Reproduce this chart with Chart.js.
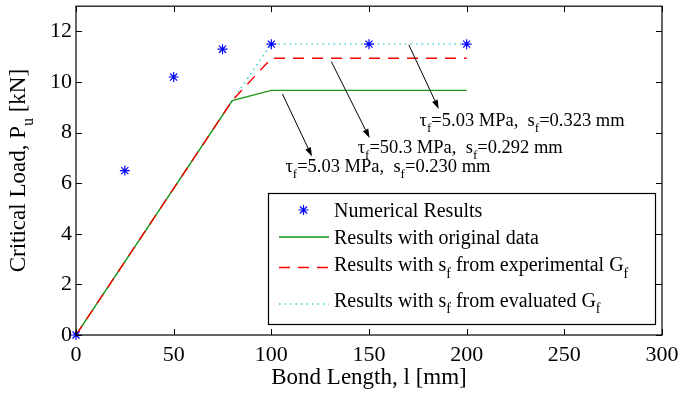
<!DOCTYPE html>
<html>
<head>
<meta charset="utf-8">
<script src="https://cdn.jsdelivr.net/npm/chart.js@4/dist/chart.umd.min.js"></script>
<style>
  html, body { margin: 0; padding: 0; background: #fff; }
  #c { display: block; }
</style>
</head>
<body>
<canvas id="c" width="681" height="393"></canvas>
<script>
// Bond length samples of the numerical model [mm] and critical loads [kN]
const bondLength = [0, 25, 50, 75, 100, 150, 200];
const numericalLoad = [0, 6.5, 10.2, 11.3, 11.5, 11.5, 11.5];

// Analytical curves: bond length [mm] vs critical load [kN]
const modelLength = [0, 80, 100, 200];
const originalLoad = [0, 9.27, 9.67, 9.67];
const experimentalGfLoad = [0, 9.27, 10.94, 10.94];
const evaluatedGfLoad = [0, 9.27, 11.5, 11.5];

// Axis ticks
const xTicks = [0, 50, 100, 150, 200, 250, 300];
const yTicks = [0, 2, 4, 6, 8, 10, 12];

const SERIF = '"Liberation Serif", "Times New Roman", serif';
const COLORS = { num: '#0000ff', orig: '#1a961a', exp: '#ff0000', evalc: '#33cccc' };

const pts = (xs, ys) => xs.map((x, i) => ({ x: x, y: ys[i] }));

// Rich text: array of [text, isSubscript]
function richWidth(ctx, parts, size) {
  let w = 0;
  for (const [t, sub] of parts) {
    ctx.font = (sub ? Math.round(size * 0.7) : size) + 'px ' + SERIF;
    w += ctx.measureText(t).width;
  }
  return w;
}
function drawRich(ctx, parts, x, y, size) {
  let cx = x;
  ctx.textBaseline = 'alphabetic';
  ctx.textAlign = 'left';
  for (const [t, sub] of parts) {
    ctx.font = (sub ? Math.round(size * 0.7) : size) + 'px ' + SERIF;
    ctx.fillText(t, cx, sub ? y + size * 0.33 : y);
    cx += ctx.measureText(t).width;
  }
}

// Callouts: text anchored in data coordinates, arrows from curve to label
const callouts = [
  { parts: [['τ', 0], ['f', 1], ['=5.03 MPa,  s', 0], ['f', 1], ['=0.323 mm', 0]], x: 175.9, y: 8.25 },
  { parts: [['τ', 0], ['f', 1], ['=50.3 MPa,  s', 0], ['f', 1], ['=0.292 mm', 0]], x: 144.2, y: 7.19 },
  { parts: [['τ', 0], ['f', 1], ['=5.03 MPa,  s', 0], ['f', 1], ['=0.230 mm', 0]], x: 107.2, y: 6.43 }
];
const arrows = [
  { from: [170.4, 11.47], to: [185.7, 8.94] },
  { from: [130.7, 10.81], to: [150.3, 7.79] },
  { from: [105.7, 9.53], to: [120.8, 7.06] }
];

const legendItems = [
  { kind: 'star', color: COLORS.num, parts: [['Numerical Results', 0]] },
  { kind: 'line', color: COLORS.orig, dash: [], width: 1.4, parts: [['Results with original data', 0]] },
  { kind: 'line', color: COLORS.exp, dash: [11, 8], width: 1.4, parts: [['Results with s', 0], ['f', 1], [' from experimental G', 0], ['f', 1]] },
  { kind: 'line', color: COLORS.evalc, dash: [1.5, 4], width: 1.4, parts: [['Results with s', 0], ['f', 1], [' from evaluated G', 0], ['f', 1]] }
];

const noOverflow = s => { s.paddingLeft = 0; s.paddingRight = 0; s.paddingTop = 0; s.paddingBottom = 0; };

const decorations = {
  id: 'decorations',
  afterDatasetsDraw(chart) {
    const { ctx, chartArea: a, scales } = chart;
    const xs = scales.x, ys = scales.y;
    ctx.save();

    // frame
    ctx.strokeStyle = '#000';
    ctx.lineWidth = 1.2;
    ctx.setLineDash([]);
    ctx.strokeRect(a.left, a.top, a.right - a.left, a.bottom - a.top);

    // inward tick marks on all four sides
    const tl = 6;
    ctx.lineWidth = 1;
    ctx.beginPath();
    for (const v of xTicks) {
      const px = Math.round(xs.getPixelForValue(v)) + 0.5;
      ctx.moveTo(px, a.bottom); ctx.lineTo(px, a.bottom - tl);
      ctx.moveTo(px, a.top); ctx.lineTo(px, a.top + tl);
    }
    for (const v of yTicks) {
      const py = Math.round(ys.getPixelForValue(v)) + 0.5;
      ctx.moveTo(a.left, py); ctx.lineTo(a.left + tl, py);
      ctx.moveTo(a.right, py); ctx.lineTo(a.right - tl, py);
    }
    ctx.stroke();

    ctx.fillStyle = '#000';
    // x axis title
    const xt = [['Bond Length, l [mm]', 0]];
    const xw = richWidth(ctx, xt, 23);
    drawRich(ctx, xt, (a.left + a.right) / 2 - xw / 2, 384, 23);

    // y axis title
    const yt = [['Critical Load, P', 0], ['u', 1], [' [kN]', 0]];
    const yw = richWidth(ctx, yt, 23);
    ctx.save();
    ctx.translate(25, (a.top + a.bottom) / 2);
    ctx.rotate(-Math.PI / 2);
    drawRich(ctx, yt, -yw / 2, 0, 23);
    ctx.restore();

    // arrows
    ctx.strokeStyle = '#000';
    ctx.fillStyle = '#000';
    ctx.lineWidth = 1;
    for (const ar of arrows) {
      const x0 = xs.getPixelForValue(ar.from[0]), y0 = ys.getPixelForValue(ar.from[1]);
      const x1 = xs.getPixelForValue(ar.to[0]), y1 = ys.getPixelForValue(ar.to[1]);
      const ang = Math.atan2(y1 - y0, x1 - x0);
      const hl = 9, hw = 3;
      const bx = x1 - hl * Math.cos(ang), by = y1 - hl * Math.sin(ang);
      ctx.beginPath();
      ctx.moveTo(x0, y0); ctx.lineTo(bx, by);
      ctx.stroke();
      ctx.beginPath();
      ctx.moveTo(x1, y1);
      ctx.lineTo(bx + hw * Math.sin(ang), by - hw * Math.cos(ang));
      ctx.lineTo(bx - hw * Math.sin(ang), by + hw * Math.cos(ang));
      ctx.closePath();
      ctx.fill();
    }

    // callout labels
    for (const c of callouts) {
      drawRich(ctx, c.parts, xs.getPixelForValue(c.x), ys.getPixelForValue(c.y), 18.5);
    }

    // legend
    const lx = 268, ly = 193, lw = 387, lh = 131;
    ctx.fillStyle = '#fff';
    ctx.fillRect(lx, ly, lw, lh);
    ctx.strokeStyle = '#000';
    ctx.lineWidth = 1.2;
    ctx.strokeRect(lx + 0.5, ly + 0.5, lw, lh);
    const rowMid = [210, 237, 267.5, 304];
    const rowBase = [216.5, 243.5, 271, 306.5];
    legendItems.forEach((it, i) => {
      const my = rowMid[i];
      ctx.strokeStyle = it.color;
      if (it.kind === 'star') {
        ctx.lineWidth = 1.2;
        ctx.setLineDash([]);
        const r = 5, cx = 303.5;
        ctx.beginPath();
        for (let k = 0; k < 4; k++) {
          const t = k * Math.PI / 4;
          ctx.moveTo(cx - r * Math.cos(t), my - r * Math.sin(t));
          ctx.lineTo(cx + r * Math.cos(t), my + r * Math.sin(t));
        }
        ctx.stroke();
      } else {
        ctx.lineWidth = it.width;
        ctx.setLineDash(it.dash);
        ctx.beginPath();
        ctx.moveTo(279, my); ctx.lineTo(329, my);
        ctx.stroke();
        ctx.setLineDash([]);
      }
      ctx.fillStyle = '#000';
      drawRich(ctx, it.parts, 334, rowBase[i], 20);
    });

    ctx.restore();
  }
};

new Chart(document.getElementById('c'), {
  type: 'line',
  data: {
    datasets: [
      {
        label: 'Numerical Results',
        data: pts(bondLength, numericalLoad),
        showLine: false,
        pointStyle: 'star',
        pointRadius: 5,
        pointBorderWidth: 1.2,
        pointBorderColor: COLORS.num,
        pointBackgroundColor: COLORS.num,
        borderColor: COLORS.num,
        clip: false,
        order: 0
      },
      {
        label: 'Results with original data',
        data: pts(modelLength, originalLoad),
        borderColor: COLORS.orig,
        borderWidth: 1.4,
        pointRadius: 0,
        order: 2
      },
      {
        label: 'Results with sf from experimental Gf',
        data: pts(modelLength, experimentalGfLoad),
        borderColor: COLORS.exp,
        borderWidth: 1.4,
        borderDash: [11, 8],
        pointRadius: 0,
        order: 1
      },
      {
        label: 'Results with sf from evaluated Gf',
        data: pts(modelLength, evaluatedGfLoad),
        borderColor: COLORS.evalc,
        borderWidth: 1.4,
        borderDash: [1.5, 4],
        pointRadius: 0,
        order: 3
      }
    ]
  },
  options: {
    responsive: false,
    devicePixelRatio: 1,
    animation: false,
    events: [],
    layout: { padding: { top: 6, right: 19, left: 0, bottom: 0 } },
    plugins: { legend: { display: false }, tooltip: { enabled: false } },
    elements: { line: { tension: 0, fill: false } },
    scales: {
      x: {
        type: 'linear',
        min: 0, max: 300,
        grid: { display: false, drawTicks: false },
        border: { display: false },
        afterBuildTicks: s => { s.ticks = xTicks.map(v => ({ value: v })); },
        afterFit: s => { s.height = 58; noOverflow(s); },
        ticks: { color: '#000', padding: 7, maxRotation: 0, font: { family: SERIF, size: 22 } }
      },
      y: {
        type: 'linear',
        min: 0, max: 13,
        grid: { display: false, drawTicks: false },
        border: { display: false },
        afterBuildTicks: s => { s.ticks = yTicks.map(v => ({ value: v })); },
        afterFit: s => { s.width = 76; noOverflow(s); },
        ticks: { color: '#000', padding: 4, font: { family: SERIF, size: 22 } }
      }
    }
  },
  plugins: [decorations]
});
</script>
</body>
</html>
